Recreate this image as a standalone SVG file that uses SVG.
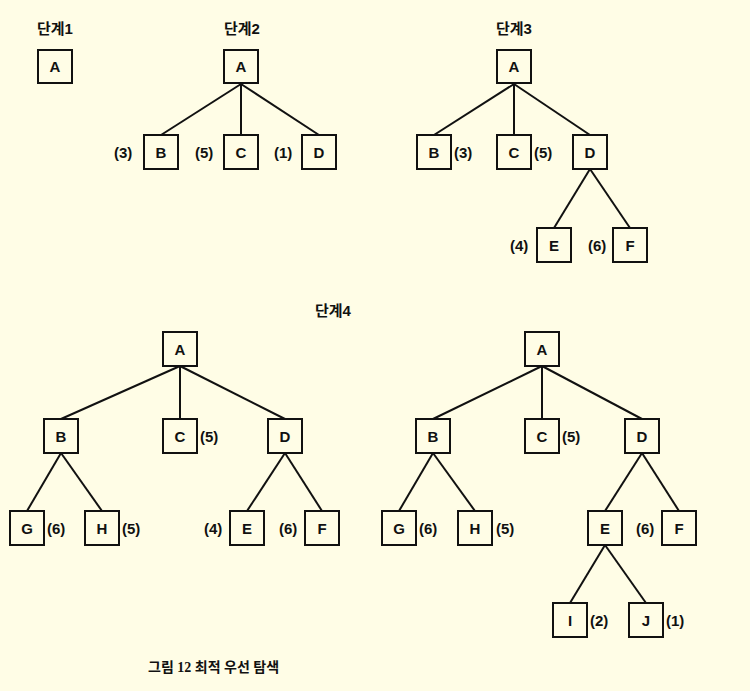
<svg xmlns="http://www.w3.org/2000/svg" width="750" height="691" viewBox="0 0 750 691">
<style>
.n rect{fill:none;stroke:#111;stroke-width:2}
.n text,.l{font-family:"Liberation Sans","Noto Sans CJK KR",sans-serif;font-weight:bold;font-size:15px;fill:#111}
.n text{text-anchor:middle}
.t{font-family:"Liberation Sans","Noto Sans CJK KR",sans-serif;font-weight:bold;font-size:15px;fill:#111;text-anchor:middle}
#edges line{stroke:#111;stroke-width:2}
</style>
<rect width="750" height="691" fill="#fffde6"/>
<text class="t" x="55" y="34">단계1</text>
<text class="t" x="242" y="34">단계2</text>
<text class="t" x="514" y="34">단계3</text>
<text class="t" x="333" y="316">단계4</text>
<g id="edges">
<line x1="241" y1="84" x2="161" y2="135"/><line x1="241" y1="84" x2="241" y2="135"/><line x1="241" y1="84" x2="319" y2="135"/>
<line x1="514" y1="84" x2="434" y2="135"/><line x1="514" y1="84" x2="514" y2="135"/><line x1="514" y1="84" x2="590" y2="135"/>
<line x1="590" y1="169" x2="554" y2="228"/><line x1="590" y1="169" x2="630" y2="228"/>
<line x1="180" y1="366" x2="61" y2="419"/><line x1="180" y1="366" x2="180" y2="419"/><line x1="180" y1="366" x2="285" y2="419"/>
<line x1="61" y1="453" x2="27" y2="511"/><line x1="61" y1="453" x2="102" y2="511"/>
<line x1="285" y1="453" x2="247" y2="511"/><line x1="285" y1="453" x2="322" y2="511"/>
<line x1="542" y1="366" x2="433" y2="419"/><line x1="542" y1="366" x2="542" y2="419"/><line x1="542" y1="366" x2="642" y2="419"/>
<line x1="433" y1="453" x2="399" y2="511"/><line x1="433" y1="453" x2="475" y2="511"/>
<line x1="642" y1="453" x2="605" y2="511"/><line x1="642" y1="453" x2="679" y2="511"/>
<line x1="605" y1="545" x2="570" y2="603"/><line x1="605" y1="545" x2="646" y2="603"/>
</g>
<g id="s1A" class="n"><rect x="38" y="50" width="34" height="33"/><text x="55" y="72">A</text></g>
<g id="s2A" class="n"><rect x="224" y="50" width="34" height="33"/><text x="241" y="72">A</text></g>
<g id="s2B" class="n"><rect x="144" y="135" width="34" height="34"/><text x="161" y="158">B</text></g>
<g id="s2C" class="n"><rect x="224" y="135" width="34" height="34"/><text x="241" y="158">C</text></g>
<g id="s2D" class="n"><rect x="302" y="135" width="34" height="34"/><text x="319" y="158">D</text></g>
<text class="l" x="114" y="158">(3)</text><text class="l" x="195" y="158">(5)</text><text class="l" x="274" y="158">(1)</text>
<g id="s3A" class="n"><rect x="497" y="50" width="34" height="33"/><text x="514" y="72">A</text></g>
<g id="s3B" class="n"><rect x="417" y="135" width="34" height="34"/><text x="434" y="158">B</text></g>
<g id="s3C" class="n"><rect x="497" y="135" width="34" height="34"/><text x="514" y="158">C</text></g>
<g id="s3D" class="n"><rect x="573" y="135" width="34" height="34"/><text x="590" y="158">D</text></g>
<g id="s3E" class="n"><rect x="537" y="228" width="34" height="34"/><text x="554" y="251">E</text></g>
<g id="s3F" class="n"><rect x="613" y="228" width="34" height="34"/><text x="630" y="251">F</text></g>
<text class="l" x="454" y="158">(3)</text><text class="l" x="534" y="158">(5)</text><text class="l" x="510" y="251">(4)</text><text class="l" x="588" y="251">(6)</text>
<g id="L_A" class="n"><rect x="163" y="332" width="34" height="34"/><text x="180" y="355">A</text></g>
<g id="L_B" class="n"><rect x="44" y="419" width="34" height="34"/><text x="61" y="442">B</text></g>
<g id="L_C" class="n"><rect x="163" y="419" width="34" height="34"/><text x="180" y="442">C</text></g>
<g id="L_D" class="n"><rect x="268" y="419" width="34" height="34"/><text x="285" y="442">D</text></g>
<g id="L_G" class="n"><rect x="10" y="511" width="34" height="34"/><text x="27" y="534">G</text></g>
<g id="L_H" class="n"><rect x="85" y="511" width="34" height="34"/><text x="102" y="534">H</text></g>
<g id="L_E" class="n"><rect x="230" y="511" width="34" height="34"/><text x="247" y="534">E</text></g>
<g id="L_F" class="n"><rect x="305" y="511" width="34" height="34"/><text x="322" y="534">F</text></g>
<text class="l" x="200" y="442">(5)</text><text class="l" x="47" y="534">(6)</text><text class="l" x="122" y="534">(5)</text><text class="l" x="204" y="534">(4)</text><text class="l" x="279" y="534">(6)</text>
<g id="R_A" class="n"><rect x="525" y="332" width="34" height="34"/><text x="542" y="355">A</text></g>
<g id="R_B" class="n"><rect x="416" y="419" width="34" height="34"/><text x="433" y="442">B</text></g>
<g id="R_C" class="n"><rect x="525" y="419" width="34" height="34"/><text x="542" y="442">C</text></g>
<g id="R_D" class="n"><rect x="625" y="419" width="34" height="34"/><text x="642" y="442">D</text></g>
<g id="R_G" class="n"><rect x="382" y="511" width="34" height="34"/><text x="399" y="534">G</text></g>
<g id="R_H" class="n"><rect x="458" y="511" width="34" height="34"/><text x="475" y="534">H</text></g>
<g id="R_E" class="n"><rect x="588" y="511" width="34" height="34"/><text x="605" y="534">E</text></g>
<g id="R_F" class="n"><rect x="662" y="511" width="34" height="34"/><text x="679" y="534">F</text></g>
<g id="R_I" class="n"><rect x="553" y="603" width="34" height="34"/><text x="570" y="626">I</text></g>
<g id="R_J" class="n"><rect x="629" y="603" width="34" height="34"/><text x="646" y="626">J</text></g>
<text class="l" x="562" y="442">(5)</text><text class="l" x="419" y="534">(6)</text><text class="l" x="496" y="534">(5)</text><text class="l" x="636" y="534">(6)</text><text class="l" x="590" y="626">(2)</text><text class="l" x="666" y="626">(1)</text>
<text x="148" y="672" font-family="'Liberation Serif','Noto Sans CJK KR',serif" font-weight="bold" font-size="14" fill="#111">그림 12  최적 우선 탐색</text>
</svg>
